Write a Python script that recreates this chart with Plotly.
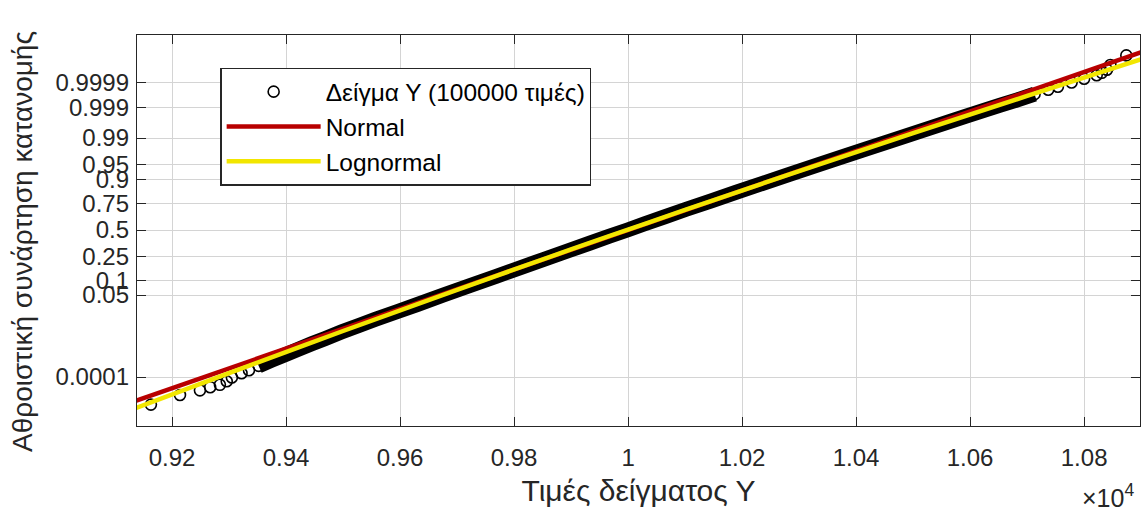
from statistics import NormalDist
import math
import plotly.graph_objects as go

# Sample size and sorted order statistics (rank -> value) of sample Y
n_total = 100000
sample_rank = [1, 2, 3, 4, 5, 7, 10, 15, 20, 30, 50, 80, 120, 200, 300, 500, 800,
               1200, 2000, 3000, 5000, 8000, 12000, 17000, 23000, 30000, 37000,
               44000, 50000, 56001, 63001, 70001, 77001, 83001, 88001, 92001,
               95001, 97001, 98001, 98801, 99201, 99501, 99701, 99801, 99881,
               99921, 99951, 99971, 99981, 99986, 99991, 99994, 99996, 99997,
               99998, 99999, 100000]
sample_value = [9163, 9214, 9249, 9267, 9284, 9296, 9305, 9322, 9335, 9352, 9375,
                9398, 9418, 9445, 9468, 9498, 9529, 9557, 9597, 9631, 9676, 9723,
                9768, 9811, 9853, 9895, 9933, 9968, 9999, 10028, 10064, 10102,
                10146, 10189, 10235, 10283, 10333, 10382, 10418, 10461, 10493,
                10529, 10565, 10593, 10627, 10653, 10683, 10713, 10737, 10754,
                10778, 10800, 10822, 10831, 10840, 10846, 10874]

# Fitted distributions
normal_mu, normal_sigma = 10000.0, 200.0
lognormal_mu, lognormal_sigma = 9.21014, 0.02
fit_x = [9130, 9300, 9500, 9700, 9900, 10000, 10100, 10300, 10500, 10700, 10900]

# Axis ticks
x_ticks = [9200, 9400, 9600, 9800, 10000, 10200, 10400, 10600, 10800]
x_tick_text = ["0.92", "0.94", "0.96", "0.98", "1", "1.02", "1.04", "1.06", "1.08"]
p_ticks = [0.0001, 0.05, 0.1, 0.25, 0.5, 0.75, 0.9, 0.95, 0.99, 0.999, 0.9999]
p_tick_text = ["0.0001", "0.05", "0.1", "0.25", "0.5", "0.75", "0.9", "0.95",
               "0.99", "0.999", "0.9999"]

probit = NormalDist().inv_cdf


def plotting_position(rank):
    return (rank - 0.5) / n_total


sample_z = [probit(plotting_position(r)) for r in sample_rank]
normal_z = [(x - normal_mu) / normal_sigma for x in fit_x]
lognormal_z = [(math.log(x) - lognormal_mu) / lognormal_sigma for x in fit_x]

# dense body of the sample where circles merge into a solid band
body = [i for i, r in enumerate(sample_rank) if 30 <= r <= n_total - 29]

font_family = "Liberation Sans, Arial, Helvetica, sans-serif"
ink = "#262626"

fig = go.Figure()
fig.add_trace(go.Scatter(
    x=[sample_value[i] for i in body], y=[sample_z[i] for i in body],
    mode="lines", line=dict(color="black", width=15, simplify=False),
    showlegend=False, hoverinfo="skip"))
fig.add_trace(go.Scatter(
    x=sample_value, y=sample_z, mode="markers",
    name="Δείγμα Υ (100000 τιμές)",
    marker=dict(symbol="circle-open", size=11, color="black",
                line=dict(width=1.6, color="black"))))
fig.add_trace(go.Scatter(
    x=fit_x, y=normal_z, mode="lines", name="Normal",
    line=dict(color="#b80000", width=4.5)))
fig.add_trace(go.Scatter(
    x=fit_x, y=lognormal_z, mode="lines", name="Lognormal",
    line=dict(color="#f2e600", width=4.5), line_shape="spline"))

axis_common = dict(
    showgrid=True, gridcolor="#d4d4d4", gridwidth=1,
    showline=True, linecolor=ink, linewidth=1.4, mirror="ticks",
    ticks="inside", ticklen=9, tickcolor=ink, tickwidth=1.4,
    zeroline=False, tickfont=dict(family=font_family, size=24, color=ink),
)

fig.update_xaxes(
    range=[9138.6, 10898], tickmode="array", tickvals=x_ticks,
    ticktext=x_tick_text, ticklabelstandoff=10,
    title=dict(text="Τιμές δείγματος Υ", standoff=9,
               font=dict(family=font_family, size=30, color=ink)),
    **axis_common)
fig.update_yaxes(
    range=[-4.958, 4.933], tickmode="array",
    tickvals=[probit(p) for p in p_ticks], ticktext=p_tick_text,
    ticklabelstandoff=2,
    **axis_common)

# y-axis title, placed as a rotated annotation left of the tick labels
fig.add_annotation(
    text="Αθροιστική συνάρτηση κατανομής", xref="paper", yref="paper",
    x=-0.1147, y=0.473, xanchor="center", yanchor="middle",
    textangle=-90, showarrow=False,
    font=dict(family=font_family, size=28, color=ink))

fig.add_annotation(
    text="×10<sup>4</sup>", xref="paper", yref="paper", x=0.996, y=-0.178,
    xanchor="right", yanchor="middle", showarrow=False,
    font=dict(family=font_family, size=25, color=ink))

fig.update_layout(
    width=1142, height=511,
    margin=dict(l=137, r=2, t=35, b=85),
    paper_bgcolor="white", plot_bgcolor="white",
    font=dict(family=font_family, color=ink),
    legend=dict(
        x=0.083, y=0.916, xanchor="left", yanchor="top",
        bgcolor="white", bordercolor="#262626", borderwidth=1.4,
        font=dict(family=font_family, size=24.5, color="black"),
        itemwidth=94,
    ),
)

fig.write_html("out.html")
